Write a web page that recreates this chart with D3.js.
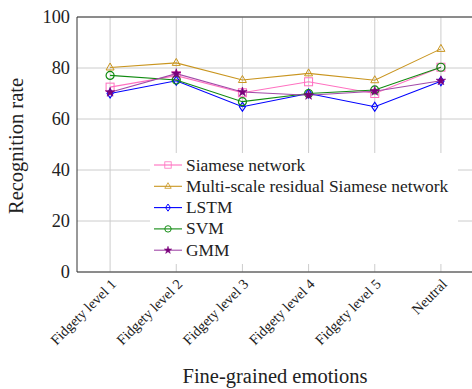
<!DOCTYPE html>
<html>
<head>
<meta charset="utf-8">
<script src="https://cdn.jsdelivr.net/npm/d3@7"></script>
<style>
  body { margin: 0; background: #fff; }
  text { font-family: "Liberation Serif", "DejaVu Serif", serif; fill: #222; }
</style>
</head>
<body>
<script>
/* Categories on the x axis */
var emotions = ['Fidgety level 1', 'Fidgety level 2', 'Fidgety level 3',
                'Fidgety level 4', 'Fidgety level 5', 'Neutral'];

/* Recognition rates */
var siamese = [72.5, 77, 70.3, 74.6, 70, 80.3];
var msrsn   = [80.2, 82, 75.3, 77.9, 75.2, 87.5];
var lstm    = [70, 75, 64.8, 70, 64.8, 74.8];
var svm     = [77.1, 75.3, 66.8, 70, 71.4, 80.3];
var gmm     = [70.5, 77.8, 70.6, 69.3, 70.9, 75];

var yTicks = [0, 20, 40, 60, 80, 100];

var seriesList = [
    {name: 'Siamese network', values: siamese, line: '#ff70c0', mark: '#ff70c0', shape: 'square'},
    {name: 'Multi-scale residual Siamese network', values: msrsn, line: '#c9951f', mark: '#c9951f', shape: 'triangle'},
    {name: 'LSTM', values: lstm, line: '#0000ff', mark: '#0000ff', shape: 'diamond'},
    {name: 'SVM', values: svm, line: '#108a10', mark: '#108a10', shape: 'circle'},
    {name: 'GMM', values: gmm, line: '#a24aa8', mark: '#7a007a', shape: 'star'}
];

var margin = {top: 17, right: -2, bottom: 117, left: 77},
    width = 472 - margin.left - margin.right,
    height = 389 - margin.top - margin.bottom;

var svg = d3.select('body')
    .append('svg')
    .attr('width', 472)
    .attr('height', 389)
    .append('g')
    .attr('transform', 'translate(' + margin.left + ',' + margin.top + ')');

var x = d3.scalePoint().domain(emotions).range([0, width]).padding(0.5);
var y = d3.scaleLinear().domain([0, 100]).range([height, 0]);

/* Grid */
svg.append('g').selectAll('line.gx')
    .data(emotions).enter().append('line')
    .attr('x1', function (d) { return x(d); })
    .attr('x2', function (d) { return x(d); })
    .attr('y1', 0).attr('y2', height)
    .attr('stroke', '#cccccc').attr('stroke-width', 1);
svg.append('g').selectAll('line.gy')
    .data(yTicks).enter().append('line')
    .attr('x1', 0).attr('x2', width)
    .attr('y1', function (d) { return y(d); })
    .attr('y2', function (d) { return y(d); })
    .attr('stroke', '#cccccc').attr('stroke-width', 1);

/* Marker shapes */
function marker(sel, shape, color) {
    if (shape === 'square') {
        sel.append('rect').attr('x', -4).attr('y', -4).attr('width', 8).attr('height', 8)
            .attr('fill', 'none').attr('stroke', color).attr('stroke-width', 1);
    } else if (shape === 'triangle') {
        sel.append('path').attr('d', 'M0,-4.5L4,2.5L-4,2.5Z')
            .attr('fill', 'none').attr('stroke', color).attr('stroke-width', 1);
    } else if (shape === 'diamond') {
        sel.append('path').attr('d', 'M0,-4.5L3,0L0,4.5L-3,0Z')
            .attr('fill', 'none').attr('stroke', color).attr('stroke-width', 1.2);
    } else if (shape === 'circle') {
        sel.append('circle').attr('r', 4)
            .attr('fill', 'none').attr('stroke', color).attr('stroke-width', 1.2);
    } else {
        sel.append('path').attr('d', d3.symbol().type(d3.symbolStar).size(28)())
            .attr('fill', color).attr('stroke', color).attr('stroke-width', 0.6);
    }
}

/* Lines and markers */
var line = d3.line()
    .x(function (d, i) { return x(emotions[i]); })
    .y(function (d) { return y(d); });

seriesList.forEach(function (s) {
    svg.append('path')
        .datum(s.values)
        .attr('d', line)
        .attr('fill', 'none')
        .attr('stroke', s.line)
        .attr('stroke-width', 1.1);
    s.values.forEach(function (v, i) {
        var g = svg.append('g')
            .attr('transform', 'translate(' + x(emotions[i]) + ',' + y(v) + ')');
        marker(g, s.shape, s.mark);
    });
});

/* Legend with white background, no border */
var legend = svg.append('g').attr('transform', 'translate(' + (150 - margin.left) + ',' + (153 - margin.top) + ')');
legend.append('rect').attr('x', 0).attr('y', 0).attr('width', 308).attr('height', 111).attr('fill', '#fff');
seriesList.forEach(function (s, i) {
    var row = legend.append('g').attr('transform', 'translate(0,' + (12 + i * 21.3) + ')');
    row.append('line').attr('x1', 4).attr('x2', 32).attr('y1', 0).attr('y2', 0)
        .attr('stroke', s.line).attr('stroke-width', 1.1);
    var m = row.append('g').attr('transform', 'translate(18,0) scale(0.8)');
    marker(m, s.shape, s.mark);
    row.append('text').attr('x', 36).attr('y', 5.5).attr('font-size', 17.4).text(s.name);
});

/* Axes frame */
var frame = svg.append('g').attr('fill', 'none').attr('stroke', '#333').attr('stroke-width', 1);
frame.append('line').attr('x1', 0).attr('x2', 0).attr('y1', 0).attr('y2', height);
frame.append('line').attr('x1', 0).attr('x2', width).attr('y1', 0).attr('y2', 0);
frame.append('line').attr('x1', 0).attr('x2', width).attr('y1', height).attr('y2', height);

/* Y tick labels */
svg.append('g').selectAll('text')
    .data(yTicks).enter().append('text')
    .attr('x', -7)
    .attr('y', function (d) { return y(d) + 6; })
    .attr('text-anchor', 'end')
    .attr('font-size', 18.3)
    .text(function (d) { return d; });

/* X tick labels, rotated */
svg.append('g').selectAll('text')
    .data(emotions).enter().append('text')
    .attr('text-anchor', 'end')
    .attr('font-size', 14.3)
    .attr('transform', function (d) {
        return 'translate(' + (x(d) + 7) + ',' + (height + 13) + ') rotate(-45)';
    })
    .text(function (d) { return d; });

/* Axis titles */
svg.append('text')
    .attr('x', 275 - margin.left)
    .attr('y', 383 - margin.top)
    .attr('text-anchor', 'middle')
    .attr('font-size', 20.5)
    .text('Fine-grained emotions');
svg.append('text')
    .attr('transform', 'translate(' + (23 - margin.left) + ',' + (146 - margin.top) + ') rotate(-90)')
    .attr('text-anchor', 'middle')
    .attr('font-size', 20.5)
    .text('Recognition rate');
</script>
</body>
</html>
